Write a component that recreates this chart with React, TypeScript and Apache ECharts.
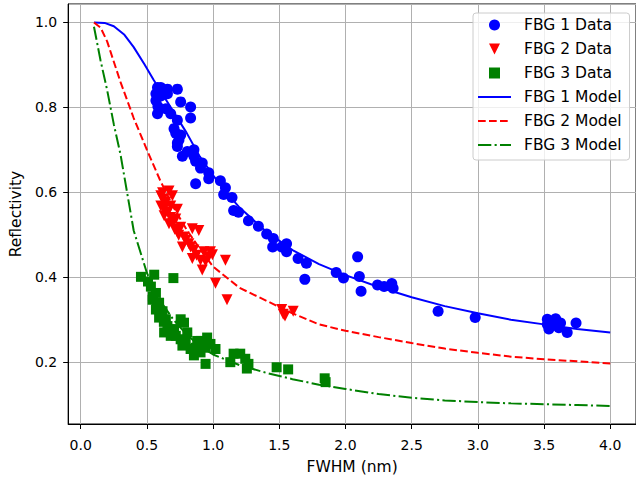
import React, { useEffect, useRef } from "react";
import * as echarts from "echarts";

// ---- Data ----
const fbg1Data: number[][] = [
  [0.58, 0.847], [0.605, 0.847], [0.655, 0.843], [0.73, 0.843], [0.568, 0.832], [0.605, 0.827],
  [0.655, 0.832], [0.568, 0.816], [0.755, 0.813], [0.583, 0.802], [0.83, 0.801], [0.58, 0.785],
  [0.643, 0.797], [0.68, 0.785], [0.83, 0.775], [0.73, 0.77], [0.705, 0.75], [0.718, 0.739],
  [0.755, 0.735], [0.742, 0.723], [0.73, 0.716], [0.73, 0.708], [0.805, 0.696], [0.768, 0.685],
  [0.855, 0.7], [0.855, 0.685], [0.868, 0.673], [0.918, 0.669], [0.905, 0.657], [0.967, 0.646],
  [0.868, 0.62], [0.967, 0.632], [1.055, 0.627], [1.093, 0.611], [1.08, 0.595], [1.143, 0.588],
  [1.155, 0.557], [1.192, 0.553], [1.267, 0.533], [1.342, 0.52], [1.405, 0.502], [1.455, 0.491],
  [1.45, 0.471], [1.518, 0.471], [1.555, 0.479], [1.555, 0.46], [1.642, 0.444], [1.705, 0.433],
  [1.693, 0.395], [1.93, 0.411], [1.985, 0.398], [2.092, 0.448], [2.105, 0.402], [2.118, 0.367],
  [2.242, 0.382], [2.292, 0.378], [2.35, 0.385], [2.36, 0.374], [2.7, 0.32], [2.98, 0.305],
  [3.525, 0.301], [3.537, 0.278], [3.562, 0.289], [3.588, 0.302], [3.625, 0.292], [3.675, 0.27],
  [3.742, 0.292], [3.525, 0.289], [3.612, 0.281],
];

const fbg2Data: number[][] = [
  [0.618, 0.599], [0.667, 0.603], [0.693, 0.592], [0.605, 0.568], [0.68, 0.568], [0.73, 0.56],
  [0.63, 0.545], [0.718, 0.537], [0.667, 0.526], [0.755, 0.518], [0.73, 0.506], [0.892, 0.51],
  [0.843, 0.514], [0.78, 0.495], [0.817, 0.479], [0.768, 0.471], [0.855, 0.464], [0.93, 0.46],
  [0.98, 0.46], [0.843, 0.444], [0.905, 0.44], [0.967, 0.448], [0.918, 0.417], [1.093, 0.44],
  [1.018, 0.386], [1.105, 0.347], [1.53, 0.313], [1.605, 0.32], [1.518, 0.324], [1.543, 0.309],
  [0.62, 0.584], [0.643, 0.577], [0.628, 0.56], [0.658, 0.553], [0.68, 0.541], [0.695, 0.527],
  [0.71, 0.513], [0.74, 0.499], [0.793, 0.487], [0.83, 0.471], [0.875, 0.452], [0.943, 0.437],
  [0.995, 0.453], [0.605, 0.592],
];

const fbg3Data: number[][] = [
  [0.455, 0.401], [0.555, 0.406], [0.7, 0.398], [0.53, 0.378], [0.568, 0.363], [0.543, 0.347],
  [0.592, 0.34], [0.568, 0.324], [0.618, 0.32], [0.592, 0.305], [0.643, 0.301], [0.655, 0.285],
  [0.63, 0.27], [0.705, 0.278], [0.755, 0.301], [0.78, 0.293], [0.68, 0.262], [0.755, 0.254],
  [0.805, 0.27], [0.768, 0.239], [0.83, 0.231], [0.855, 0.216], [0.918, 0.239], [0.98, 0.243],
  [1.018, 0.231], [0.943, 0.196], [0.905, 0.223], [0.88, 0.25], [0.955, 0.258], [1.13, 0.2],
  [1.155, 0.22], [1.205, 0.22], [1.243, 0.208], [1.267, 0.196], [1.255, 0.185], [1.48, 0.188],
  [1.567, 0.183], [1.843, 0.162], [1.85, 0.153], [0.508, 0.39], [0.545, 0.355], [0.575, 0.332],
  [0.605, 0.313], [0.628, 0.295], [0.665, 0.276], [0.718, 0.262], [0.793, 0.25], [0.868, 0.234],
  [0.905, 0.25], [0.943, 0.234],
];

const fbg1Model: number[][] = [
  [0.1, 1.0], [0.18, 0.999], [0.25, 0.991], [0.33, 0.971], [0.4, 0.942], [0.48, 0.902],
  [0.55, 0.865], [0.6, 0.84], [0.7, 0.79], [0.8, 0.74], [0.9, 0.684], [1.0, 0.64], [1.1, 0.6],
  [1.2, 0.564], [1.4, 0.508], [1.6, 0.464], [1.8, 0.431], [2.0, 0.405], [2.25, 0.377],
  [2.5, 0.353], [2.75, 0.332], [3.0, 0.315], [3.25, 0.3], [3.5, 0.289], [3.75, 0.278], [4.0, 0.27],
];

const fbg2Model: number[][] = [
  [0.1, 1.0], [0.15, 0.988], [0.2, 0.955], [0.3, 0.86], [0.4, 0.775], [0.5, 0.7], [0.6, 0.628],
  [0.7, 0.565], [0.8, 0.512], [0.9, 0.467], [1.0, 0.425], [1.2, 0.375], [1.4, 0.345],
  [1.6, 0.315], [1.8, 0.289], [2.0, 0.274], [2.25, 0.259], [2.5, 0.245], [2.75, 0.232],
  [3.0, 0.222], [3.25, 0.213], [3.5, 0.207], [3.75, 0.202], [4.0, 0.197],
];

const fbg3Model: number[][] = [
  [0.1, 0.99], [0.15, 0.91], [0.2, 0.84], [0.25, 0.76], [0.3, 0.69], [0.35, 0.6], [0.4, 0.51],
  [0.45, 0.46], [0.5, 0.41], [0.6, 0.345], [0.7, 0.3], [0.8, 0.265], [0.9, 0.238], [1.0, 0.218],
  [1.2, 0.193], [1.4, 0.175], [1.6, 0.16], [1.8, 0.147], [2.0, 0.137], [2.25, 0.125],
  [2.5, 0.116], [2.75, 0.11], [3.0, 0.106], [3.25, 0.103], [3.5, 0.101], [3.75, 0.099], [4.0, 0.097],
];

const seriesNames = ["FBG 1 Data", "FBG 2 Data", "FBG 3 Data", "FBG 1 Model", "FBG 2 Model", "FBG 3 Model"];
const xAxisTitle = "FWHM (nm)";
const yAxisTitle = "Reflectivity";

const FONT = "DejaVu Sans";
const BLUE = "#0000ff";
const RED = "#ff0000";
const GREEN = "#008000";

const ICON_TRI_DOWN = "path://M0,0L10,0L5,10Z";
const ICON_SQUARE = "path://M0,0L10,0L10,10L0,10Z";

export default function App() {
  const ref = useRef<HTMLDivElement>(null);

  useEffect(() => {
    if (!ref.current) return;
    const chart = echarts.init(ref.current, undefined, { renderer: "svg" });
    const axisCommon = {
      type: "value" as const,
      axisLine: { show: true, onZero: false, lineStyle: { color: "#000", width: 1 } },
      axisTick: { show: true, length: 5, lineStyle: { color: "#000", width: 1 } },
      splitLine: { show: true, lineStyle: { color: "#b0b0b0", width: 1 } },
      axisLabel: {
        color: "#000",
        fontFamily: FONT,
        fontSize: 14,
        showMinLabel: false,
        showMaxLabel: false,
      },
      nameTextStyle: { color: "#000", fontFamily: FONT, fontSize: 15.5 },
      nameLocation: "middle" as const,
    };
    chart.setOption({
      animation: false,
      backgroundColor: "#fff",
      grid: {
        left: 66.7,
        top: 4,
        width: 572,
        height: 425.3,
        show: true,
        borderColor: "#000",
        borderWidth: 1,
        backgroundColor: "transparent",
        containLabel: false,
      },
      xAxis: {
        ...axisCommon,
        min: -0.095,
        max: 4.195,
        splitNumber: 8,
        name: xAxisTitle,
        nameGap: 35,
        axisLabel: { ...axisCommon.axisLabel, margin: 14, formatter: (v: number) => v.toFixed(1) },
      },
      yAxis: {
        ...axisCommon,
        min: 0.0544,
        max: 1.0435,
        splitNumber: 5,
        name: yAxisTitle,
        nameGap: 42,
        axisLabel: { ...axisCommon.axisLabel, margin: 11, formatter: (v: number) => v.toFixed(1) },
      },
      legend: {
        orient: "vertical",
        left: 473,
        top: 13,
        padding: [4, 8, 7, 4],
        itemWidth: 33,
        itemHeight: 11,
        itemGap: 8,
        symbolRotate: 0,
        backgroundColor: "rgba(255,255,255,0.8)",
        borderColor: "#cccccc",
        borderWidth: 1,
        borderRadius: 3,
        textStyle: { color: "#000", fontFamily: FONT, fontSize: 15.5, padding: [0, 0, 0, 8] },
        data: [
          { name: seriesNames[0], icon: "circle" },
          { name: seriesNames[1], icon: ICON_TRI_DOWN },
          { name: seriesNames[2], icon: ICON_SQUARE },
          { name: seriesNames[3], itemStyle: { opacity: 0 } },
          { name: seriesNames[4], itemStyle: { opacity: 0 } },
          { name: seriesNames[5], itemStyle: { opacity: 0 } },
        ],
      },
      series: [
        {
          name: seriesNames[0],
          type: "scatter",
          data: fbg1Data,
          symbol: "circle",
          symbolSize: 11,
          itemStyle: { color: BLUE, opacity: 1 },
          z: 2,
        },
        {
          name: seriesNames[1],
          type: "scatter",
          data: fbg2Data,
          symbol: "triangle",
          symbolRotate: 180,
          symbolSize: 11,
          itemStyle: { color: RED, opacity: 1 },
          z: 2,
        },
        {
          name: seriesNames[2],
          type: "scatter",
          data: fbg3Data,
          symbol: "rect",
          symbolSize: 10,
          itemStyle: { color: GREEN, opacity: 1 },
          z: 2,
        },
        {
          name: seriesNames[3],
          type: "line",
          data: fbg1Model,
          showSymbol: false,
          symbol: "none",
          lineStyle: { color: BLUE, width: 2, type: "solid" },
          itemStyle: { color: BLUE },
          z: 3,
        },
        {
          name: seriesNames[4],
          type: "line",
          data: fbg2Model,
          showSymbol: false,
          symbol: "none",
          lineStyle: { color: RED, width: 2, type: [7.7, 3.3] },
          itemStyle: { color: RED },
          z: 3,
        },
        {
          name: seriesNames[5],
          type: "line",
          data: fbg3Model,
          showSymbol: false,
          symbol: "none",
          lineStyle: { color: GREEN, width: 2, type: [13.3, 3.3, 2.1, 3.3] },
          itemStyle: { color: GREEN },
          z: 3,
        },
      ],
    });
    return () => chart.dispose();
  }, []);

  return (
    <div
      ref={ref}
      style={{ position: "fixed", left: 0, top: 0, width: 636, height: 480, background: "#fff" }}
    />
  );
}
